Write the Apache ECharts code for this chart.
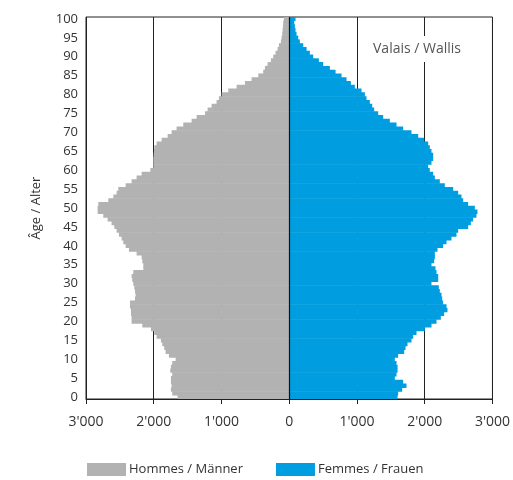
<!DOCTYPE html>
<html>
<head>
<meta charset="utf-8">
<script src="https://cdn.jsdelivr.net/npm/echarts@6/dist/echarts.min.js"></script>
<style>html,body{margin:0;padding:0;background:#fff}#c{width:513px;height:480px}</style>
</head>
<body>
<div id="c"></div>
<script>
const ages = [];
for (let a = 0; a <= 100; a++) ages.push(String(a));

const men = [
1648,1727,1746,1736,1746,1746,1727,1756,1746,1727,
1677,1776,1825,1845,1874,1894,1958,1992,2041,2169,
2327,2327,2336,2336,2351,2351,2277,2268,2277,2287,
2302,2317,2327,2302,2154,2154,2169,2179,2253,2366,
2415,2450,2474,2514,2548,2582,2622,2681,2745,2828,
2828,2818,2671,2597,2548,2523,2415,2327,2253,2179,
2050,2007,2007,2007,2002,1997,1992,1958,1884,1795,
1736,1663,1564,1441,1367,1244,1205,1146,1072,1038,
998,900,777,654,556,457,384,359,320,271,
236,202,172,152,123,113,103,98,93,89,
79];

const women = [
1599,1608,1667,1731,1682,1559,1584,1599,1599,1584,
1559,1608,1697,1717,1746,1805,1830,1879,2002,2100,
2174,2238,2287,2336,2322,2272,2258,2248,2223,2208,
2100,2199,2199,2174,2159,2100,2140,2150,2150,2189,
2272,2322,2395,2469,2494,2641,2681,2715,2764,2779,
2740,2641,2568,2543,2494,2420,2297,2223,2150,2125,
2075,2051,2100,2125,2125,2100,2076,2051,1992,1904,
1805,1682,1584,1485,1387,1313,1254,1225,1190,1141,
1117,1067,969,910,846,772,684,600,502,438,
354,305,256,207,157,133,108,93,84,74,
93];

const xTickLabels = ["3'000","2'000","1'000","0","1'000","2'000","3'000"];
const seriesNames = ["Hommes / Männer", "Femmes / Frauen"];
const title = "Valais / Wallis";
const yName = "Âge / Alter";

const FONT = "'Open Sans', 'Liberation Sans', sans-serif";
const GRAY = '#b2b2b2', BLUE = '#009ee0';
const chart = echarts.init(document.getElementById('c'), null, {renderer: 'canvas'});
chart.setOption({
  animation: false,
  backgroundColor: '#fff',
  textStyle: {fontFamily: FONT},
  title: {
    text: title,
    left: 369, top: 36,
    padding: [6, 4, 6, 4],
    backgroundColor: '#fff',
    textStyle: {fontFamily: FONT, fontSize: 14, fontWeight: 'normal', color: '#555'}
  },
  legend: {
    left: 82, top: 458,
    itemWidth: 39, itemHeight: 13, itemGap: 33,
    icon: 'rect',
    textStyle: {fontFamily: FONT, fontSize: 13, color: '#333', padding: [0, 0, 0, -2]},
    data: seriesNames
  },
  grid: {
    left: 86, right: 19, top: 17, bottom: 81,
    show: true, borderColor: '#222', borderWidth: 1, backgroundColor: 'transparent'
  },
  xAxis: {
    type: 'value', min: -3000, max: 3000, interval: 1000,
    axisLine: {show: true, lineStyle: {color: '#222', width: 1}},
    axisTick: {show: true, inside: false, length: 5, lineStyle: {color: '#222'}},
    splitLine: {show: true, lineStyle: {color: '#222', width: 1}},
    axisLabel: {
      margin: 16, fontFamily: FONT, fontSize: 14, color: '#333',
      formatter: function (v) { return xTickLabels[Math.round((v + 3000) / 1000)]; }
    }
  },
  yAxis: {
    type: 'category', data: ages, boundaryGap: true,
    name: yName, nameLocation: 'middle', nameGap: 43, nameRotate: 90,
    nameTextStyle: {fontFamily: FONT, fontSize: 13, color: '#333'},
    axisLine: {show: false},
    axisTick: {show: false},
    splitLine: {show: false},
    axisLabel: {
      interval: 4, margin: 8, fontFamily: FONT, fontSize: 13, color: '#333',
      padding: [9, 0, 0, 0]
    }
  },
  series: [
    {
      name: seriesNames[0], type: 'bar',
      data: men.map(v => -v),
      barGap: '-100%', barWidth: '115%',
      itemStyle: {color: GRAY},
      markLine: {
        silent: true, symbol: 'none', label: {show: false},
        lineStyle: {color: '#111', width: 1.2, type: 'solid'},
        data: [{xAxis: 0}]
      }
    },
    {
      name: seriesNames[1], type: 'bar',
      data: women,
      barGap: '-100%', barWidth: '115%',
      itemStyle: {color: BLUE}
    }
  ]
});
</script>
</body>
</html>
